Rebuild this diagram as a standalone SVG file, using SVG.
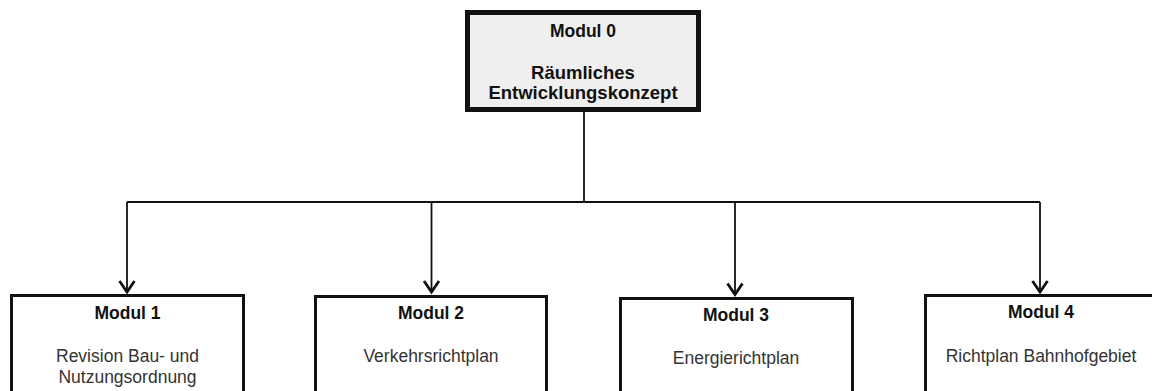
<svg xmlns="http://www.w3.org/2000/svg" width="1152" height="391" viewBox="0 0 1152 391">
<defs>
<style>
.box{fill:#ffffff;stroke:#111;stroke-width:3}
.top{fill:#efefef;stroke:#111;stroke-width:5}
.h{font-family:"Liberation Sans",Arial,sans-serif;font-weight:bold;font-size:17.5px;fill:#111;text-anchor:middle}
.t{font-family:"Liberation Sans",Arial,sans-serif;font-size:17.5px;fill:#333;text-anchor:middle}
.c{fill:none;stroke:#111;stroke-width:1.8}
</style>
<marker id="arr" markerUnits="userSpaceOnUse" markerWidth="20" markerHeight="20" refX="14" refY="10" orient="auto" viewBox="0 0 20 20">
<path d="M3,2.5 L14,10 L3,17.5" fill="none" stroke="#111" stroke-width="2.8"/>
</marker>
</defs>
<rect width="1152" height="391" fill="#fff"/>
<g id="connectors">
<path class="c" d="M584,112 V202"/>
<path class="c" d="M127,202 H1040"/>
<path class="c" d="M127,202 V292" marker-end="url(#arr)"/>
<path class="c" d="M431.5,202 V292" marker-end="url(#arr)"/>
<path class="c" d="M735,202 V294.5" marker-end="url(#arr)"/>
<path class="c" d="M1040,202 V292" marker-end="url(#arr)"/>
</g>
<g id="modul0">
<rect class="top" x="467.5" y="12.5" width="231" height="97"/>
<text class="h" x="583" y="37" style="font-size:17.5px">Modul 0</text>
<text class="h" x="583" y="79" style="font-size:18.5px">Räumliches</text>
<text class="h" x="583" y="99" style="font-size:18.5px">Entwicklungskonzept</text>
</g>
<g id="modul1">
<rect class="box" x="11.5" y="295.5" width="232" height="120"/>
<text class="h" x="127.5" y="319">Modul 1</text>
<text class="t" x="127.5" y="362">Revision Bau- und</text>
<text class="t" x="127.5" y="383">Nutzungsordnung</text>
</g>
<g id="modul2">
<rect class="box" x="315.5" y="296.5" width="231" height="120"/>
<text class="h" x="431" y="319">Modul 2</text>
<text class="t" x="431" y="362">Verkehrsrichtplan</text>
</g>
<g id="modul3">
<rect class="box" x="620.5" y="298.5" width="232" height="120"/>
<text class="h" x="736" y="321">Modul 3</text>
<text class="t" x="736" y="364">Energierichtplan</text>
</g>
<g id="modul4">
<rect class="box" x="925.5" y="295.5" width="232" height="120"/>
<text class="h" x="1041" y="318">Modul 4</text>
<text class="t" x="1041" y="362">Richtplan Bahnhofgebiet</text>
</g>
</svg>
